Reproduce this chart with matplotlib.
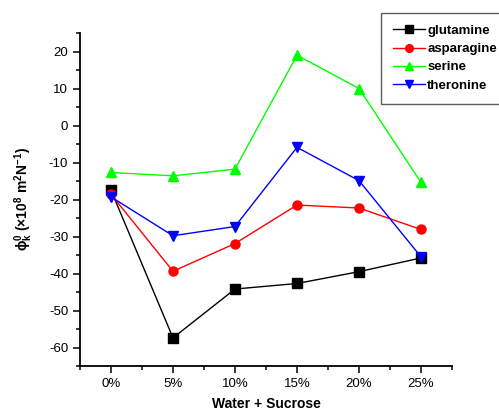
import matplotlib
matplotlib.use("Agg")
import matplotlib.pyplot as plt
from matplotlib.ticker import MultipleLocator

plt.rcParams['font.family'] = ['Liberation Sans', 'DejaVu Sans']
plt.rcParams['mathtext.fontset'] = 'custom'
plt.rcParams['mathtext.rm'] = 'Liberation Sans'
plt.rcParams['mathtext.bf'] = 'Liberation Sans:bold'
plt.rcParams['mathtext.it'] = 'Liberation Sans:italic'
plt.rcParams['axes.unicode_minus'] = False

categories = ['0%', '5%', '10%', '15%', '20%', '25%']
glutamine = [-17.5, -57.4, -44.2, -42.7, -39.5, -35.8]
asparagine = [-18.6, -39.4, -31.9, -21.5, -22.3, -28.1]
serine = [-12.7, -13.6, -11.8, 19.0, 10.0, -15.4]
theronine = [-19.3, -29.8, -27.3, -5.9, -14.9, -35.5]

series = [
    ('glutamine', glutamine, 'black', 's'),
    ('asparagine', asparagine, 'red', 'o'),
    ('serine', serine, '#00ff00', '^'),
    ('theronine', theronine, 'blue', 'v'),
]

fig = plt.figure(figsize=(4.99, 4.12), dpi=100)
ax = fig.add_axes([80/499, 1-366/412, (452-80)/499, (366-33)/412])

x = list(range(len(categories)))
handles = []
for name, vals, col, m in series:
    h, = ax.plot(x, vals, color=col, marker=m, markersize=6.5, linewidth=1.0,
                 label=name)
    handles.append(h)

ax.set_xlim(-0.5, 5.5)
ax.set_ylim(-65, 25)
ax.set_xticks(x)
ax.set_xticklabels(categories)
ax.xaxis.set_minor_locator(MultipleLocator(0.5))
ax.yaxis.set_major_locator(MultipleLocator(10))
ax.yaxis.set_minor_locator(MultipleLocator(5))

for s in ['top', 'right']:
    ax.spines[s].set_visible(False)
for s in ['left', 'bottom']:
    ax.spines[s].set_linewidth(1.3)

ax.tick_params(which='major', direction='out', length=5, width=1.1, labelsize=9.5)
ax.tick_params(which='minor', direction='out', length=3, width=1.1)

ax.set_xlabel('Water + Sucrose', fontsize=10, fontweight='bold', labelpad=5)
ax.set_ylabel(r'$\mathbf{\phi^0_k}$ (×10$^\mathbf{8}$ m$^\mathbf{2}$N$^\mathbf{-1}$)',
              fontsize=10, fontweight='bold', labelpad=10)

leg = fig.legend(handles=handles, loc='upper left',
                 bbox_to_anchor=(381/499, 1-13/412),
                 frameon=True, fancybox=False, edgecolor='#333333',
                 prop={'weight': 'bold', 'size': 9.5},
                 handlelength=2.4, handletextpad=0.2, labelspacing=0.45,
                 markerscale=0.85,
                 borderpad=0.9, borderaxespad=0)
leg.get_frame().set_linewidth(1.0)

fig.savefig('out.png', dpi=100)
